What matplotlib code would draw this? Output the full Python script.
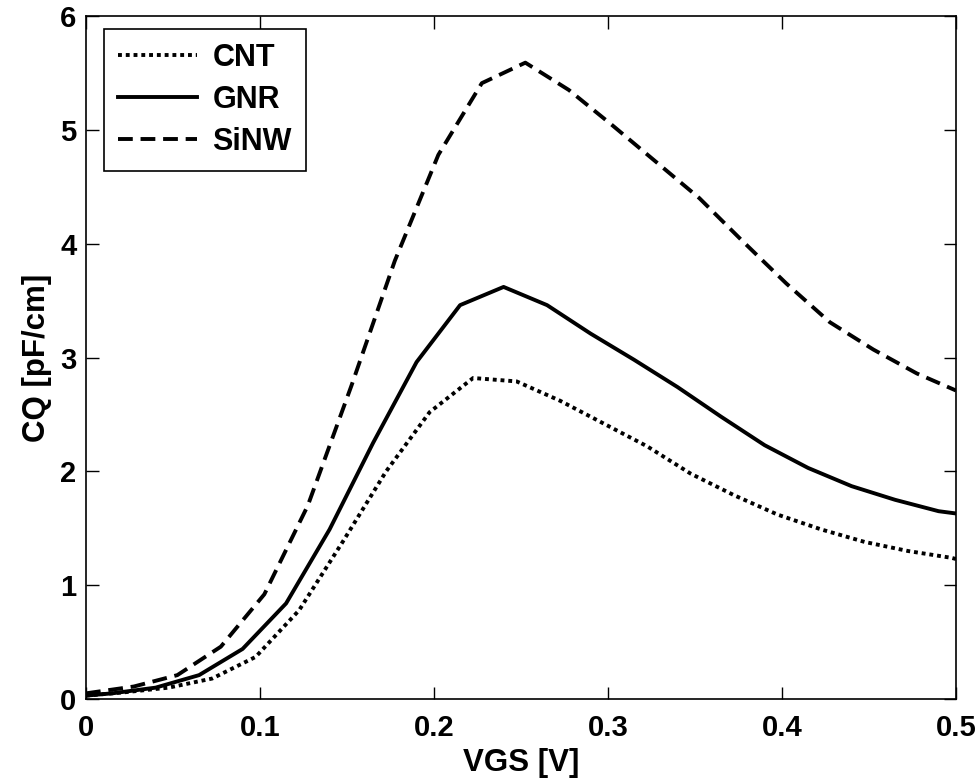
import numpy as np
import matplotlib.pyplot as plt

plt.rcParams['font.family'] = ['Liberation Sans', 'DejaVu Sans']
plt.rcParams['font.weight'] = 'bold'

# CNT (dotted)
vgs_cnt = [0, 0.0225, 0.0475, 0.0725, 0.0975, 0.1225, 0.1475, 0.1725, 0.1975, 0.2225,
           0.2475, 0.2725, 0.2975, 0.3225, 0.3475, 0.3725, 0.3975, 0.4225, 0.4475, 0.4725,
           0.4975, 0.5]
cq_cnt = [0.03, 0.06, 0.10, 0.18, 0.37, 0.78, 1.38, 2.00, 2.52, 2.82,
          2.79, 2.62, 2.42, 2.22, 1.98, 1.79, 1.62, 1.49, 1.38, 1.30,
          1.24, 1.23]

# GNR (solid)
vgs_gnr = [0, 0.015, 0.04, 0.065, 0.09, 0.115, 0.14, 0.165, 0.19, 0.215,
           0.24, 0.265, 0.29, 0.315, 0.34, 0.365, 0.39, 0.415, 0.44, 0.465,
           0.49, 0.5]
cq_gnr = [0.03, 0.05, 0.10, 0.21, 0.44, 0.84, 1.49, 2.25, 2.96, 3.46,
          3.62, 3.46, 3.21, 2.98, 2.74, 2.48, 2.23, 2.03, 1.87, 1.75,
          1.65, 1.63]

# SiNW (dashed)
vgs_sinw = [0, 0.0275, 0.0525, 0.0775, 0.1025, 0.1275, 0.1525, 0.1775, 0.2025, 0.2275,
            0.2525, 0.2775, 0.3025, 0.3275, 0.3525, 0.3775, 0.4025, 0.4275, 0.4525, 0.4775,
            0.5]
cq_sinw = [0.05, 0.11, 0.21, 0.46, 0.92, 1.70, 2.75, 3.85, 4.78, 5.41,
           5.59, 5.35, 5.04, 4.72, 4.40, 4.02, 3.65, 3.31, 3.07, 2.86,
           2.71]

fig = plt.figure(figsize=(9.77, 7.8), dpi=100)
ax = fig.add_axes([0.088, 0.1038, 0.8905, 0.8757])

lw = 2.8
ax.plot(vgs_cnt, cq_cnt, color='k', lw=lw, linestyle=(0, (1, 1)), label='CNT')
ax.plot(vgs_gnr, cq_gnr, color='k', lw=lw, linestyle='-', label='GNR')
ax.plot(vgs_sinw, cq_sinw, color='k', lw=lw, linestyle=(0, (3.8, 2.0)), label='SiNW')

ax.set_xlim(0, 0.5)
ax.set_ylim(0, 6)
ax.set_xticks([0, 0.1, 0.2, 0.3, 0.4, 0.5])
ax.set_xticklabels(['0', '0.1', '0.2', '0.3', '0.4', '0.5'])
ax.set_yticks(range(7))

ax.tick_params(direction='in', length=9, width=1, top=True, right=True,
               labelsize=21, pad=7)
ax.tick_params(axis='x', pad=11)
for s in ax.spines.values():
    s.set_linewidth(1.2)

ax.set_xlabel('VGS [V]', fontsize=22.5, fontweight='bold', labelpad=4)
ax.set_ylabel('CQ [pF/cm]', fontsize=22.5, fontweight='bold', labelpad=6)

leg = ax.legend(loc='upper left', fontsize=22, handlelength=2.6, handletextpad=0.5,
                labelspacing=0.4, borderpad=0.45, borderaxespad=0, fancybox=False,
                framealpha=1, edgecolor='k', bbox_to_anchor=(0.0207, 0.981))
leg.get_frame().set_linewidth(1.2)
for t in leg.get_texts():
    t.set_fontweight('bold')

fig.savefig('out.png', dpi=100)
